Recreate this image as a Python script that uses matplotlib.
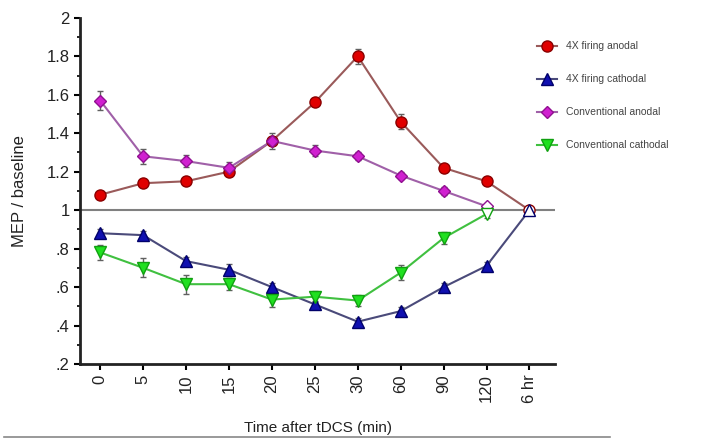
import numpy as np
import matplotlib
matplotlib.use("Agg")
import matplotlib.pyplot as plt
from matplotlib.lines import Line2D

plt.rcParams['font.family'] = ['Liberation Sans', 'DejaVu Sans']

# --- data ---
time_labels = ['0', '5', '10', '15', '20', '25', '30', '60', '90', '120', '6 hr']

anodal_4x = [1.08, 1.14, 1.15, 1.20, 1.36, 1.56, 1.80, 1.46, 1.22, 1.15, 1.00]
anodal_4x_err = [0.02, 0.02, 0.02, 0.02, 0.02, 0.02, 0.04, 0.04, 0.02, 0.02, 0.0]

cathodal_4x = [0.88, 0.87, 0.735, 0.69, 0.60, 0.51, 0.42, 0.475, 0.60, 0.71, 1.00]
cathodal_4x_err = [0.02, 0.02, 0.02, 0.03, 0.02, 0.02, 0.02, 0.02, 0.02, 0.02, 0.0]

conv_anodal = [1.57, 1.28, 1.255, 1.22, 1.36, 1.31, 1.28, 1.18, 1.10, 1.02]
conv_anodal_err = [0.05, 0.04, 0.03, 0.03, 0.04, 0.03, 0.02, 0.02, 0.02, 0.0]

conv_cathodal = [0.78, 0.70, 0.615, 0.615, 0.535, 0.55, 0.53, 0.675, 0.855, 0.98]
conv_cathodal_err = [0.04, 0.05, 0.05, 0.03, 0.04, 0.03, 0.03, 0.04, 0.03, 0.02]

series = [
    ('4X firing anodal', anodal_4x, anodal_4x_err, 'o', '#e00000', '#8a0000', '#9a5a5a', 8),
    ('4X firing cathodal', cathodal_4x, cathodal_4x_err, '^', '#1010b0', '#00006a', '#4a4a7a', 8),
    ('Conventional anodal', conv_anodal, conv_anodal_err, 'D', '#d020d0', '#901090', '#a060a8', 6),
    ('Conventional cathodal', conv_cathodal, conv_cathodal_err, 'v', '#20e020', '#10a010', '#40c040', 8),
]

fig = plt.figure(figsize=(7.05, 4.45), dpi=100)
ax = fig.add_axes([0.1135, 0.182, 0.674, 0.778])

x_all = np.arange(len(time_labels))
ax.axhline(1.0, color='#808080', lw=1.5, zorder=1)

handles = []
for name, vals, err, mk, face, edge, line_c, ms in series:
    x = x_all[:len(vals)]
    ax.errorbar(x, vals, yerr=err, fmt='none', ecolor='#606060', elinewidth=1,
                capsize=2, zorder=2)
    ax.plot(x, vals, '-', color=line_c, lw=1.5, zorder=3)
    # last point drawn open
    ax.plot(x[:-1], vals[:-1], mk, ms=ms, mfc=face, mec=edge, mew=1, ls='none', zorder=4)
    ax.plot(x[-1:], vals[-1:], mk, ms=ms, mfc='white', mec=edge, mew=1, ls='none', zorder=4)
    handles.append(Line2D([], [], color=line_c, lw=1.5, marker=mk, ms=ms, mfc=face, mec=edge))

ax.set_xlim(-0.47, 10.6)
ax.set_ylim(0.2, 2.0)
ax.set_xticks(x_all)
ax.set_xticklabels(time_labels, rotation=90, fontsize=12, color='#222222')
yt = [0.2, 0.4, 0.6, 0.8, 1.0, 1.2, 1.4, 1.6, 1.8, 2.0]
ax.set_yticks(yt)
ax.set_yticklabels(['.2', '.4', '.6', '.8', '1', '1.2', '1.4', '1.6', '1.8', '2'],
                   fontsize=12, color='#222222')
ax.set_yticks(np.arange(0.3, 2.0, 0.2), minor=True)
ax.tick_params(axis='both', which='major', length=4, width=1.5, direction='out')
ax.tick_params(axis='y', which='minor', length=2.5, width=1.2, direction='out')

for s in ['top', 'right']:
    ax.spines[s].set_visible(False)
for s in ['left', 'bottom']:
    ax.spines[s].set_linewidth(2)
    ax.spines[s].set_color('#222222')

ax.set_ylabel('MEP / baseline', fontsize=12, color='#222222', labelpad=14)
ax.set_xlabel('Time after tDCS (min)', fontsize=11, color='#222222', labelpad=13)

fig.legend(handles, [s[0] for s in series], loc='upper left',
           bbox_to_anchor=(0.749, 0.928), frameon=False, fontsize=7.5,
           labelspacing=2.2, handlelength=1.9, labelcolor='#444444')

fig.add_artist(Line2D([0.005, 0.865], [0.018, 0.018], color='#888888', lw=1.2,
                      transform=fig.transFigure))

fig.savefig('out.png', dpi=100)
